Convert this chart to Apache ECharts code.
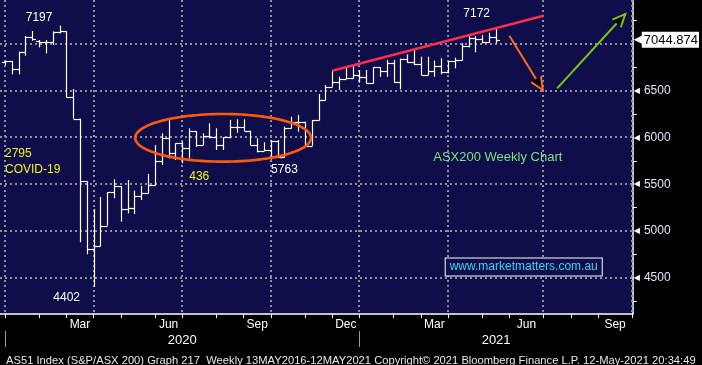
<!DOCTYPE html>
<html><head><meta charset="utf-8">
<script src="https://cdn.jsdelivr.net/npm/echarts@6/dist/echarts.min.js"></script>
<style>html,body{margin:0;padding:0;background:#000;}#c{width:702px;height:365px;}</style>
</head><body><div id="c"></div>
<script>
// ---- Weekly OHLC (week 0 = week ending 27 Dec 2019, week 72 = week ending 14 May 2021)
const opens = [6804,6818,6733,6918,7071,7036,7018,7021,7125,7135,
  6429,6201,5531,4811,4836,5057,5413,5481,5234,5241,
  5377,5402,5488,5748,5991,5830,5937,5891,6069,5919,
  6016,6008,5919,6001,6115,6115,6073,5919,5855,5866,
  5962,5791,6098,6169,6169,5912,6183,6397,6543,6597,
  6626,6633,6668,6650,6579,6750,6711,6793,6597,6839,
  6807,6786,6668,6711,6765,6697,6818,6825,6982,7061,
  7053,7018,7075];
const highs = [6821,6818,6918,7086,7139,7043,7043,7135,7197,7135,
  6518,6201,5531,5235,5363,5413,5552,5481,5545,5431,
  5480,5609,5919,6044,6187,5937,5955,6098,6069,6044,
  6151,6098,6001,6187,6194,6194,6073,5991,5948,5973,
  5973,6115,6222,6240,6169,6187,6465,6561,6715,6650,
  6750,6765,6722,6722,6750,6750,6829,6829,6843,6889,
  6936,6864,6864,6822,6847,6818,6854,7007,7086,7086,
  7096,7121,7172];
const lows = [6775,6676,6676,6875,7036,6964,6900,6989,7114,6429,
  6201,4879,4750,4402,4836,5057,5349,5099,5188,5181,
  5331,5402,5488,5705,5777,5759,5723,5777,5901,5919,
  5991,5866,5866,5991,6051,6069,5919,5841,5855,5763,
  5780,5787,6098,6062,5912,5912,6183,6397,6543,6508,
  6626,6630,6586,6579,6579,6650,6650,6586,6515,6800,
  6775,6668,6668,6650,6675,6686,6740,6825,6964,6911,
  7007,7014,7007];
const closes = [6818,6733,6918,7071,7053,7018,7021,7125,7135,6429,
  6201,5531,4811,4836,5057,5413,5481,5234,5241,5377,
  5402,5488,5748,5991,5830,5937,5891,6069,5919,6016,
  6008,5919,6001,6115,6115,6073,5919,5855,5866,5962,
  5791,6098,6169,6169,5912,6183,6397,6543,6597,6626,
  6633,6668,6650,6579,6750,6711,6793,6597,6839,6807,
  6786,6668,6711,6765,6697,6818,6825,6982,7061,7053,
  7018,7075,7044.874];
const lastPrice = 7044.874;

// ---- Axis ticks / labels
const monthTickIdx  = [0,5,9,13,17,22,26,31,35,39,44,48,52,57,61,65,70,74,79,83,87,92];
const monthTickName = ['Jan','Feb','Mar','Apr','May','Jun','Jul','Aug','Sep','Oct','Nov','Dec',
                       'Jan','Feb','Mar','Apr','May','Jun','Jul','Aug','Sep','Oct'];
const labeledMonths = ['Mar','Jun','Sep','Dec'];
const quarterGridIdx = [0,13,26,39,52,65,79,92];
const yearNames = ['2020','2021'];
const yearStartIdx = [0,52];
const priceGrid = [4500,5000,5500,6000,6500,7000];
const priceLabels = [4500,5000,5500,6000,6500];
const priceMinorTicks = [4250,4750,5250,5750,6250,6750,7250];

// ---- Drawn annotations (in data units)
const trendLine = [[48,6714],[79,7303]];
const arrowDown = [74.0,7089,78.9,6508];
const arrowUp   = [81.0,6526,91.0,7321];
const ellipseAnno = [32.0,5996,12.9,255];
const notes = [
  {text:'7197', at:[5.0,7284], color:'#ffffff'},
  {text:'4402', at:[9.05,4282], color:'#ffffff'},
  {text:'2795', at:[0,5823], color:'#f2f21c', align:'left'},
  {text:'COVID-19', at:[0,5652], color:'#f2f21c', align:'left'},
  {text:'436', at:[28.5,5577], color:'#f2f21c'},
  {text:'5763', at:[41.0,5652], color:'#ffffff'},
  {text:'7172', at:[69.2,7321], color:'#ffffff'},
  {text:'ASX200 Weekly Chart', at:[72.3,5791], color:'#7ee07e', size:13}
];
const siteNote = {text:'www.marketmatters.com.au', at:[76.1,4614]};
const footer = 'AS51 Index (S&P/ASX 200) Graph 217  Weekly 13MAY2016-12MAY2021 Copyright\u00A9 2021 Bloomberg Finance L.P. 12-May-2021 20:34:49';

const xMin = -0.73, xMax = 92.1, yMin = 4111, yMax = 7471;
const FONT = 'Liberation Sans, Arial, sans-serif';

// derived label positions
const monthCenters = [], monthLabelAt = {};
for (let k = 0; k < monthTickIdx.length - 1; k++) {
  if (labeledMonths.indexOf(monthTickName[k]) >= 0) {
    const c = (monthTickIdx[k] + monthTickIdx[k+1]) / 2;
    monthCenters.push(c); monthLabelAt[String(c)] = monthTickName[k];
  }
}
const yearCenters = [], yearLabelAt = {};
for (let k = 0; k < yearNames.length; k++) {
  const a = Math.max(xMin, yearStartIdx[k]);
  const b = k + 1 < yearStartIdx.length ? yearStartIdx[k+1] : xMax;
  const c = (a + b) / 2; yearCenters.push(c); yearLabelAt[String(c)] = yearNames[k];
}

const barData = opens.map((o, i) => [i, o, highs[i], lows[i], closes[i]]);
const crisp = v => Math.round(v) + 0.5;

function renderBar(params, api) {
  const i = api.value(0);
  const x = crisp(api.coord([i, yMin])[0]);
  const hw = api.size([1, 0])[0] / 2;
  const yo = crisp(api.coord([i, api.value(1)])[1]);
  const yh = api.coord([i, api.value(2)])[1];
  const yl = api.coord([i, api.value(3)])[1];
  const yc = crisp(api.coord([i, api.value(4)])[1]);
  const st = {stroke:'#ffffff', lineWidth:1.2};
  return {type:'group', children:[
    {type:'line', shape:{x1:x, y1:yh, x2:x, y2:yl}, style:st},
    {type:'line', shape:{x1:x - hw, y1:yo, x2:x, y2:yo}, style:st},
    {type:'line', shape:{x1:x, y1:yc, x2:x + hw, y2:yc}, style:st}
  ]};
}
const gridStyle = {stroke:'#8e8e98', lineWidth:2, lineDash:[2,3]};
function renderVGrid(params, api) {
  const cs = params.coordSys;
  const x = Math.round(api.coord([api.value(0), yMin])[0]);
  return {type:'line', shape:{x1:x, y1:cs.y, x2:x, y2:cs.y + cs.height}, style:gridStyle};
}
function renderHGrid(params, api) {
  const cs = params.coordSys;
  const y = Math.round(api.coord([xMin, api.value(1)])[1]);
  return {type:'line', shape:{x1:cs.x, y1:y, x2:cs.x + cs.width, y2:y}, style:gridStyle};
}
function makeArrowRenderer(color) {
  return function (params, api) {
    const p1 = api.coord([api.value(0), api.value(1)]);
    const p2 = api.coord([api.value(2), api.value(3)]);
    const ang = Math.atan2(p2[1] - p1[1], p2[0] - p1[0]);
    const L = 14, s = 0.42;
    const st = {stroke:color, lineWidth:2};
    const h1 = [p2[0] - L * Math.cos(ang - s), p2[1] - L * Math.sin(ang - s)];
    const h2 = [p2[0] - L * Math.cos(ang + s), p2[1] - L * Math.sin(ang + s)];
    return {type:'group', children:[
      {type:'line', shape:{x1:p1[0], y1:p1[1], x2:p2[0], y2:p2[1]}, style:st},
      {type:'polyline', shape:{points:[h1, p2, h2]}, style:st}
    ]};
  };
}
function renderEllipse(params, api) {
  const c = api.coord([api.value(0), api.value(1)]);
  const rx = api.size([api.value(2), 0])[0];
  const ry = api.size([0, api.value(3)])[1];
  const pts = [];
  for (let k = 0; k < 120; k++) {
    const t = k / 120 * Math.PI * 2;
    pts.push([c[0] + rx * Math.cos(t), c[1] + ry * Math.sin(t)]);
  }
  return {type:'polygon', shape:{points:pts}, style:{fill:'transparent', stroke:'#ff5a0a', lineWidth:2.6}};
}
function renderNote(params, api) {
  const n = notes[params.dataIndex];
  const p = api.coord(n.at);
  return {type:'text', x:p[0], y:p[1], style:{text:n.text, fill:n.color,
    font:(n.size || 12) + 'px ' + FONT, align:n.align || 'center', verticalAlign:'middle'}};
}
function renderSite(params, api) {
  const p = api.coord(siteNote.at);
  return {type:'text', x:p[0], y:p[1], style:{text:siteNote.text, fill:'#3ad6f2',
    font:'12px ' + FONT, align:'center', verticalAlign:'middle',
    backgroundColor:'#0f0d4a', borderColor:'#ffffff', borderWidth:1, padding:[3,4,2,4]}};
}

const chart = echarts.init(document.getElementById('c'), null, {renderer:'canvas'});
chart.setOption({
  animation:false,
  backgroundColor:'#000000',
  title:{text:footer, left:1, top:350, textStyle:{color:'#e8e8e8', fontSize:11.2, fontWeight:'normal',
    fontFamily:FONT}},
  grid:{left:0, right:66, top:0, bottom:51, show:true, backgroundColor:'#0f0d4a', borderWidth:0},
  xAxis:[{
    type:'value', min:xMin, max:xMax, position:'bottom',
    axisLine:{show:true, onZero:false, lineStyle:{color:'#ffffff', width:1.5}},
    axisTick:{show:true, customValues:monthTickIdx, length:4, lineStyle:{color:'#ffffff'}},
    axisLabel:{customValues:monthCenters, formatter:v => monthLabelAt[String(v)] || '',
      color:'#ffffff', fontSize:12, fontFamily:FONT, margin:5},
    splitLine:{show:false}
  },{
    type:'value', min:xMin, max:xMax, position:'bottom', offset:17,
    axisLine:{show:false},
    axisTick:{show:true, customValues:yearStartIdx, length:16, lineStyle:{color:'#9a9a9a'}},
    axisLabel:{customValues:yearCenters, formatter:v => yearLabelAt[String(v)] || '',
      color:'#ffffff', fontSize:13, fontFamily:FONT, margin:3},
    splitLine:{show:false}
  }],
  yAxis:{
    type:'value', position:'right', min:yMin, max:yMax,
    axisLine:{show:true, onZero:false, lineStyle:{color:'#ffffff', width:1.5}},
    axisTick:{show:true, customValues:priceMinorTicks, length:4, lineStyle:{color:'#ffffff'}},
    axisLabel:{customValues:priceLabels.concat([lastPrice]), margin:1,
      formatter:v => Math.abs(v - lastPrice) < 1e-6 ? '{p|\u25C0}{b|' + lastPrice.toFixed(3) + '}' : '{t|\u25C0}{n|' + v + '}',
      rich:{
        t:{color:'#ffffff', fontSize:8, fontFamily:'DejaVu Sans', padding:[0,4,0,0]},
        n:{color:'#dde6ff', fontSize:12, fontFamily:FONT},
        p:{color:'#ffffff', fontSize:13, fontFamily:'DejaVu Sans', padding:[0,-2,0,0]},
        b:{color:'#000000', backgroundColor:'#ffffff', fontSize:13, fontFamily:FONT, padding:[2,1,1,2]}
      }},
    splitLine:{show:false}
  },
  series:[
    {type:'custom', name:'vgrid', z:1, silent:true, renderItem:renderVGrid,
      data:quarterGridIdx.map(v => [v, yMin]), encode:{x:0, y:1}},
    {type:'custom', name:'hgrid', z:1, silent:true, renderItem:renderHGrid,
      data:priceGrid.map(v => [xMin, v]), encode:{x:0, y:1}},
    {type:'custom', name:'AS51', z:3, renderItem:renderBar, data:barData,
      dimensions:['week','open','high','low','close'], encode:{x:0, y:[1,2,3,4]}},
    {type:'custom', name:'range', z:4, silent:true, renderItem:renderEllipse,
      data:[ellipseAnno], encode:{x:0, y:1}},
    {type:'line', name:'trend', z:4, silent:true, data:trendLine, symbol:'none',
      lineStyle:{color:'#ff2b4e', width:2.5}},
    {type:'custom', name:'down', z:4, silent:true, renderItem:makeArrowRenderer('#ff6a13'),
      data:[arrowDown], encode:{x:[0,2], y:[1,3]}},
    {type:'custom', name:'up', z:4, silent:true, renderItem:makeArrowRenderer('#7ac70f'),
      data:[arrowUp], encode:{x:[0,2], y:[1,3]}},
    {type:'custom', name:'notes', z:5, silent:true, renderItem:renderNote,
      data:notes.map(n => n.at), encode:{x:0, y:1}},
    {type:'custom', name:'site', z:5, silent:true, renderItem:renderSite,
      data:[siteNote.at], encode:{x:0, y:1}}
  ]
});
</script></body></html>
